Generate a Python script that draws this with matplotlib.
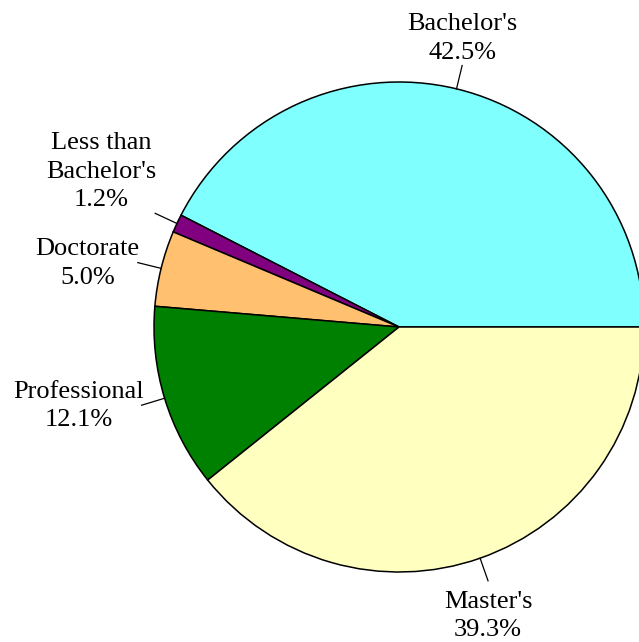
import numpy as np
import matplotlib.pyplot as plt

labels = ["Bachelor's", "Less than\nBachelor's", "Doctorate", "Professional", "Master's"]
shares = [42.5, 1.2, 5.0, 12.1, 39.3]
colors = ["#80FFFF", "#800080", "#FFC070", "#008000", "#FFFFC0"]

plt.rcParams['font.family'] = ['Liberation Serif', 'DejaVu Serif']

fig = plt.figure(figsize=(6.39, 6.42), dpi=100)
ax = fig.add_axes([0, 0, 1, 1])

cx, cy, R = 399, -327, 245
wedges, _ = ax.pie(shares, colors=colors, startangle=0, counterclock=True,
                   center=(cx, cy), radius=R,
                   wedgeprops=dict(edgecolor='black', linewidth=1.1))

for w, lab, val in zip(wedges, labels, shares):
    ang = np.deg2rad((w.theta1 + w.theta2) / 2)
    x0, y0 = cx + R * np.cos(ang), cy + R * np.sin(ang)
    x1, y1 = cx + (R + 24) * np.cos(ang), cy + (R + 24) * np.sin(ang)
    ax.plot([x0, x1], [y0, y1], color='black', lw=0.9)
    deg = np.rad2deg(ang) % 360
    if 45 < deg < 135:
        ha, va, tx, ty = 'center', 'bottom', x1, y1 + 2
    elif 225 < deg < 315:
        ha, va, tx, ty = 'center', 'top', x1, y1 - 10
    elif deg < 160:
        ha, va, tx, ty = 'right', 'bottom', x1 + 1, y1 + 2
    else:
        ha, va, tx, ty = 'right', 'center', x1 + 2, y1 - 1
    ax.text(tx, ty, f"{lab}\n{val:.1f}%", ha=ha, va=va, multialignment='center',
            fontsize=19, linespacing=1.38)

ax.set_xlim(0, 639)
ax.set_ylim(-642, 0)
ax.set_aspect('equal')
ax.axis('off')

fig.savefig('out.png', dpi=100)
